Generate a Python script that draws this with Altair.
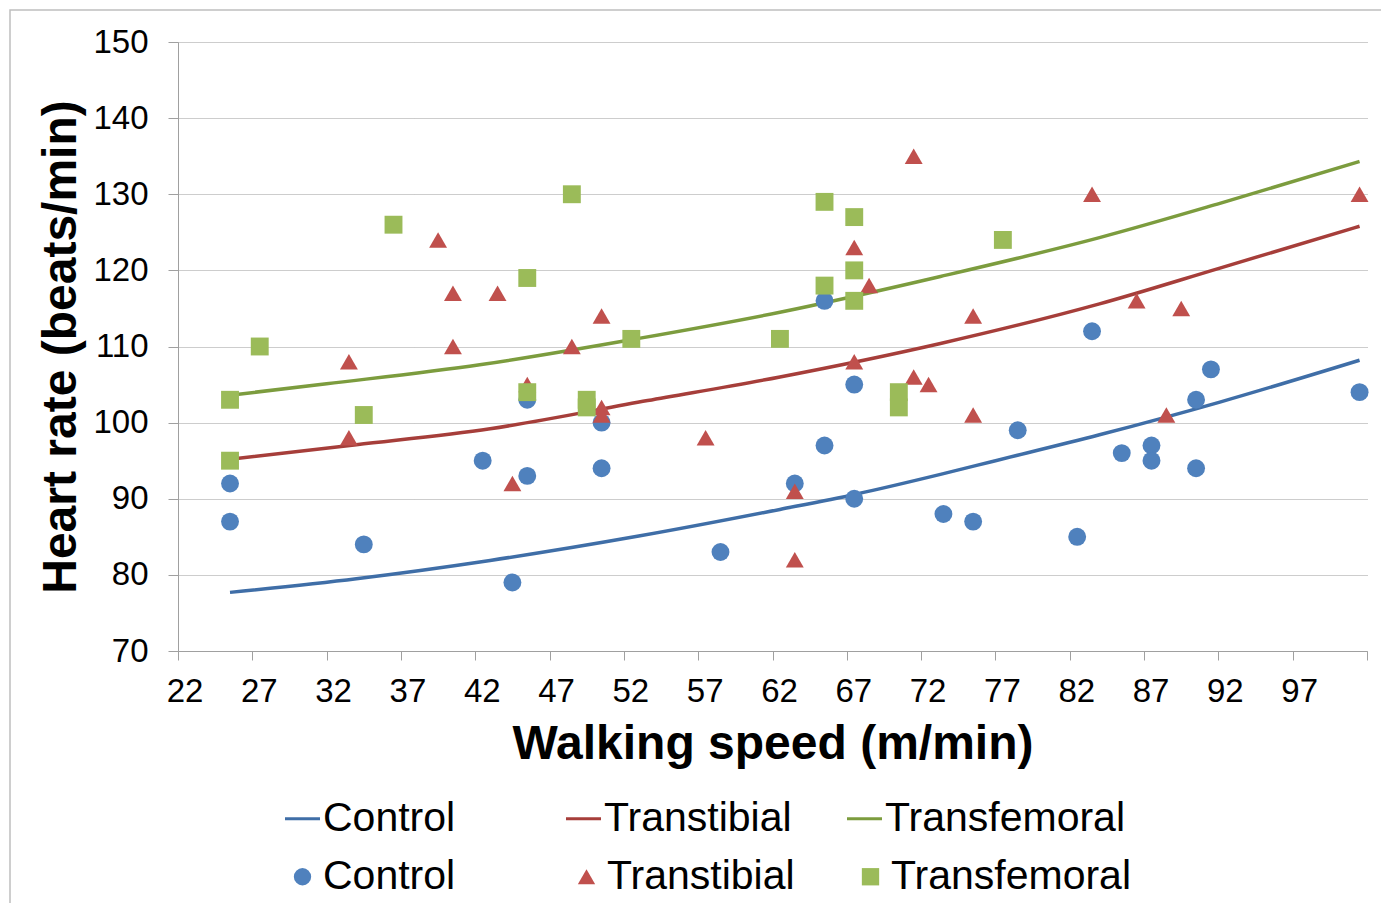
import altair as alt
import pandas as pd

groups = ["Control", "Transtibial", "Transfemoral"]
line_groups = ["line:Control", "line:Transtibial", "line:Transfemoral"]
point_colors = ["#4F81BD", "#C0504D", "#9BBB59"]
line_colors = ["#3F6EA7", "#A63E3A", "#7C9C3E"]

ctrl_x = [25.5, 25.5, 34.5, 42.5, 44.5, 45.5, 45.5, 50.5, 50.5, 58.5, 63.5, 65.5, 65.5, 67.5,
          67.5, 73.5, 75.5, 78.5, 82.5, 83.5, 85.5, 87.5, 87.5, 90.5, 90.5, 91.5, 101.5]
ctrl_y = [92, 87, 84, 95, 79, 93, 103, 100, 94, 83, 92, 116, 97, 105,
          90, 88, 87, 99, 85, 112, 96, 97, 95, 103, 94, 107, 104]

tt_x = [33.5, 33.5, 39.5, 40.5, 40.5, 43.5, 44.5, 45.5, 48.5, 50.5, 50.5, 50.5, 57.5, 63.5,
        63.5, 67.5, 67.5, 68.5, 71.5, 71.5, 72.5, 75.5, 75.5, 83.5, 86.5, 88.5, 89.5, 101.5]
tt_y = [108, 98, 124, 117, 110, 117, 92, 105, 110, 114, 102, 101, 98, 91,
        82, 123, 108, 118, 135, 106, 105, 114, 101, 130, 116, 101, 115, 130]

tf_x = [25.5, 25.5, 27.5, 34.5, 36.5, 45.5, 45.5, 48.5, 49.5, 49.5, 52.5, 62.5, 65.5, 65.5,
        67.5, 67.5, 67.5, 70.5, 70.5, 77.5]
tf_y = [103, 95, 110, 101, 126, 119, 104, 130, 103, 102, 111, 111, 129, 118,
        127, 120, 116, 104, 102, 124]

# trend lines
ctrl_tx = [25.5, 34, 43, 53, 62.5, 67.6, 73.3, 76.8, 84, 92.1, 101.5]
ctrl_ty = [77.7, 79.5, 81.9, 85.1, 88.6, 90.6, 93.2, 94.9, 98.4, 102.7, 108.2]
tt_tx = [25.5, 34, 43, 53.6, 62.5, 73.3, 84, 92.1, 101.5]
tt_ty = [95.2, 97.1, 99.2, 102.9, 106.0, 110.4, 115.6, 120.3, 125.8]
tf_tx = [25.5, 32, 42.3, 53.1, 62.5, 73.3, 84, 92.1, 101.5]
tf_ty = [103.6, 105.1, 107.6, 111.1, 114.5, 119.2, 124.3, 128.8, 134.3]

x_ticks = list(range(22, 103, 5))
x_labels = list(range(22, 98, 5))
y_ticks = list(range(70, 151, 10))

pts = pd.concat([
    pd.DataFrame({"x": ctrl_x, "y": ctrl_y, "g": "Control", "o": 0}),
    pd.DataFrame({"x": tt_x, "y": tt_y, "g": "Transtibial", "o": 1}),
    pd.DataFrame({"x": tf_x, "y": tf_y, "g": "Transfemoral", "o": 2}),
], ignore_index=True)

lns = pd.concat([
    pd.DataFrame({"x": ctrl_tx, "y": ctrl_ty, "series": line_groups[0]}),
    pd.DataFrame({"x": tt_tx, "y": tt_ty, "series": line_groups[1]}),
    pd.DataFrame({"x": tf_tx, "y": tf_ty, "series": line_groups[2]}),
], ignore_index=True)

lab = pd.DataFrame({"x": x_labels, "t": [str(v) for v in x_labels]})

FONT = "Liberation Sans"
AX = "#A0A0A0"

x_enc = alt.X("x:Q",
              scale=alt.Scale(domain=[22, 102], nice=False, zero=False),
              axis=alt.Axis(values=x_ticks, labels=False,
                            title="Walking speed (m/min)",
                            titleFontSize=48, titleFontWeight="bold", titleColor="black",
                            titleBaseline="alphabetic", titleY=107,
                            tickSize=9, tickColor=AX, domainColor=AX, grid=False))
y_enc = alt.Y("y:Q",
              scale=alt.Scale(domain=[70, 150], nice=False, zero=False),
              axis=alt.Axis(values=y_ticks,
                            title="Heart rate (beats/min)",
                            titleFontSize=48, titleFontWeight="bold", titleColor="black",
                            titleAngle=270, titleAlign="center", titleBaseline="middle",
                            titleX=-117, titleY=304.5,
                            labelFontSize=33, labelColor="black", labelPadding=20,
                            tickSize=10, tickColor=AX, domainColor=AX,
                            grid=True, gridColor="#9A9A9A", gridDash=[1, 1], gridWidth=1,
                            labelFlush=False, labelOverlap=False))

lines = alt.Chart(lns).mark_line(strokeWidth=3.5, interpolate="monotone").encode(
    x=x_enc, y=y_enc,
    stroke=alt.Stroke("series:N", scale=alt.Scale(domain=line_groups, range=line_colors),
                      legend=alt.Legend(orient="none", legendX=104, legendY=756,
                                        direction="horizontal", columns=3, title=None,
                                        labelExpr="replace(datum.label, 'line:', '')",
                                        labelFontSize=41, labelFont=FONT, labelColor="black",
                                        symbolSize=1225, symbolStrokeWidth=3,
                                        symbolType="stroke",
                                        gridAlign="all", columnPadding=-3, padding=0,
                                        labelOffset=0, labelLimit=500)),
)

pt_legend = alt.Legend(orient="none", legendX=104, legendY=814,
                       direction="horizontal", columns=3, title=None,
                       labelFontSize=41, labelFont=FONT, labelColor="black",
                       symbolSize=300, symbolStrokeWidth=0, symbolOpacity=1,
                       gridAlign="all", columnPadding=3, padding=0,
                       labelOffset=0, labelLimit=500)

points = alt.Chart(pts).mark_point(filled=True, opacity=1, size=320).encode(
    x="x:Q", y="y:Q",
    fill=alt.Fill("g:N", scale=alt.Scale(domain=groups, range=point_colors),
                  legend=pt_legend),
    shape=alt.Shape("g:N", scale=alt.Scale(domain=groups,
                                           range=["circle", "triangle-up", "square"]),
                    legend=pt_legend),
    order=alt.Order("o:Q"),
)

labels = alt.Chart(lab).mark_text(
    fontSize=33, font=FONT, color="black", baseline="top", align="center", dx=7
).encode(x="x:Q", y=alt.value(634), text="t:N")

border = alt.Chart(alt.Data(values=[{}])).mark_rect(
    fill="white", fillOpacity=0, stroke="#BFBFBF", strokeWidth=1.5
).encode(x=alt.value(-168), x2=alt.value(1206), y=alt.value(-32), y2=alt.value(900))

chart = alt.layer(border, lines, points, labels).properties(
    width=1189, height=609,
    padding={"left": 170, "top": 34, "right": 14, "bottom": 252},
    autosize=alt.AutoSizeParams(type="none"),
).configure(font=FONT).configure_view(stroke=None)

chart.save("out.html", embed_options={"renderer": "svg", "actions": False})
